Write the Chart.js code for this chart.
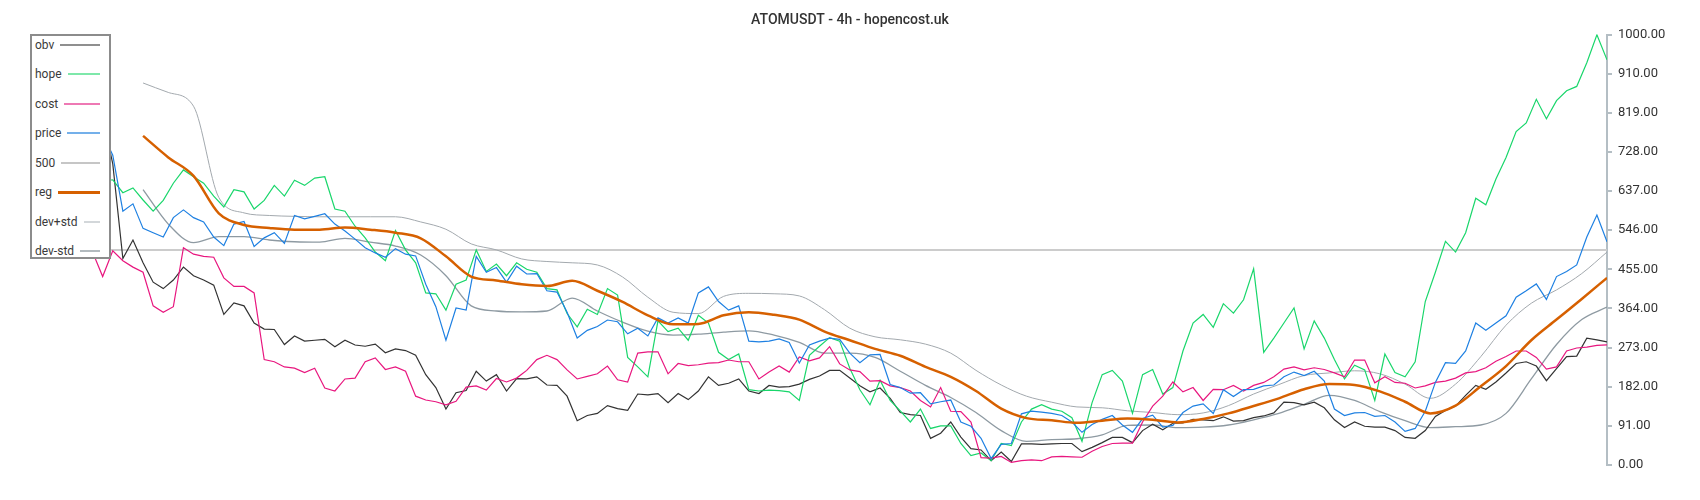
<!DOCTYPE html>
<html>
<head>
<meta charset="utf-8">
<title>ATOMUSDT - 4h - hopencost.uk</title>
<script src="https://cdn.jsdelivr.net/npm/chart.js@4.4.1/dist/chart.umd.min.js"></script>
<style>
  html, body { margin: 0; padding: 0; background: #fff; }
  .chartBox { position: relative; width: 1700px; height: 500px; }
  .legendBox {
    position: absolute; left: 30px; top: 34px; width: 81px; height: 225px;
    box-sizing: border-box; border: 2px solid #8c8c8c; background: #fff;
    font-family: Roboto, sans-serif;
  }
  .legendRow { position: absolute; left: 3px; right: 9px; height: 16px; display: flex; align-items: center; }
  .legendRow .name { font-size: 12px; color: #3a3a3a; white-space: nowrap; }
  .legendRow .line { flex: 1; margin-left: 6px; }
</style>
</head>
<body>
<div class="chartBox">
  <canvas id="chart" width="1700" height="500"></canvas>
  <div class="legendBox" id="legend"></div>
</div>
<script>
const title = "ATOMUSDT - 4h - hopencost.uk";

// x is the candle index; raw series are kept every 2nd candle,
// reg and the std bands start after their lookback window
const xMax = 312;
const rawStep = 2;
const smoothStart = 22;
const smoothStep = 5;

const tickValues = [0, 91, 182, 273, 364, 455, 546, 637, 728, 819, 910, 1000];

const obv = [
  760, 780, 750, 790, 770, 800, 780, 810, 700, 480,
  523, 470, 425, 410, 430, 460, 440, 430, 418, 350,
  377, 370, 330, 316, 315, 280, 300, 288, 290, 292,
  275, 290, 279, 276, 281, 261, 270, 266, 255, 210,
  180, 130, 168, 173, 218, 195, 210, 172, 201, 200,
  205, 186, 185, 160, 103, 115, 120, 138, 131, 127,
  165, 163, 166, 145, 166, 152, 172, 205, 185, 190,
  200, 172, 166, 185, 181, 182, 188, 199, 207, 220,
  220, 202, 184, 170, 179, 155, 122, 117, 115, 62,
  74, 100, 65, 38, 35, 10, 30, 8, 49, 49,
  48, 49, 50, 50, 31, 41, 52, 64, 64, 52,
  80, 95, 82, 97, 98, 106, 105, 103, 112, 102,
  103, 110, 114, 121, 146, 145, 140, 146, 133, 105,
  87, 100, 90, 88, 88, 80, 64, 62, 80, 113,
  127, 137, 162, 185, 176, 193, 214, 236, 240, 230,
  196, 224, 252, 253, 295, 291, 286
];

const hope = [
  700, 690, 710, 680, 700, 670, 690, 660, 663, 633,
  644, 616, 590, 615, 655, 686, 670, 655, 625, 600,
  640, 635, 595, 615, 650, 625, 662, 650, 667, 670,
  595, 590, 555, 528, 495, 475, 545, 500, 470, 400,
  398, 360, 420, 430, 500, 450, 467, 440, 470, 455,
  448, 410, 407, 352, 321, 362, 350, 410, 395, 250,
  228, 205, 335, 310, 318, 290, 348, 330, 262, 245,
  258, 175, 172, 174, 173, 170, 150, 255, 276, 296,
  288, 225, 175, 140, 197, 150, 126, 100, 130, 85,
  91, 91, 50, 22, 28, 10, 50, 45, 100, 130,
  140, 130, 125, 110, 55, 145, 210, 220, 195, 120,
  210, 222, 165, 180, 265, 330, 350, 320, 375, 353,
  384, 456, 262, 295, 330, 365, 270, 335, 295, 245,
  200, 232, 221, 150, 258, 215, 205, 240, 380, 448,
  520, 495, 540, 620, 605, 665, 715, 775, 795, 850,
  805, 847, 870, 880, 935, 1000, 942
];

const cost = [
  560, 545, 570, 535, 550, 520, 495, 438, 498, 475,
  460, 448, 370, 355, 368, 505, 490, 485, 483, 435,
  415, 415, 400, 245, 240, 228, 225, 215, 225, 179,
  172, 200, 202, 240, 249, 222, 228, 218, 160, 151,
  147, 140, 148, 181, 184, 174, 201, 193, 202, 220,
  245, 255, 245, 221, 200, 206, 212, 230, 198, 193,
  260, 263, 263, 212, 236, 231, 233, 237, 238, 244,
  240, 240, 200, 216, 230, 216, 251, 242, 249, 275,
  235, 221, 217, 195, 196, 184, 180, 172, 150, 135,
  180, 125, 124, 100, 17, 16, 20, 6, 10, 12,
  10, 19, 20, 19, 18, 32, 43, 50, 51, 51,
  100, 137, 160, 193, 170, 180, 150, 176, 175, 185,
  172, 185, 192, 205, 223, 228, 221, 226, 222, 214,
  205, 244, 244, 191, 205, 192, 190, 179, 184, 192,
  195, 202, 214, 217, 226, 241, 252, 265, 265, 250,
  223, 228, 265, 272, 274, 278, 279
];

const price = [
  700, 720, 690, 730, 700, 740, 720, 770, 720, 590,
  607, 550, 540, 530, 575, 593, 575, 565, 530, 510,
  560, 566, 508, 528, 540, 515, 580, 572, 578, 584,
  560, 544, 525, 505, 493, 483, 503, 490, 486, 420,
  368, 290, 365, 360, 485, 448, 459, 425, 462, 444,
  445, 405, 402, 355, 295, 313, 322, 337, 333, 305,
  318, 300, 342, 330, 342, 330, 400, 414, 380, 360,
  370, 288, 286, 288, 293, 285, 237, 279, 288, 295,
  292, 260, 238, 256, 257, 187, 180, 167, 168, 142,
  147, 151, 100, 90, 62, 15, 48, 50, 119, 125,
  123, 120, 115, 100, 76, 94, 106, 115, 93, 76,
  108, 116, 88, 92, 122, 137, 142, 120, 175, 159,
  175, 176, 184, 186, 205, 216, 208, 218, 195, 130,
  115, 121, 122, 113, 115, 100, 78, 85, 125, 192,
  238, 236, 265, 330, 313, 330, 347, 390, 405, 421,
  385, 438, 450, 465, 530, 581, 519
];

const reg = [
  765, 715, 672, 585, 558, 551, 547, 547, 552, 547,
  540, 527, 485, 438, 429, 420, 416, 428, 405, 379,
  348, 327, 328, 348, 355, 349, 338, 310, 290, 270,
  254, 228, 205, 172, 131, 109, 104, 98, 103, 108,
  105, 99, 107, 120, 137, 155, 176, 188, 186, 171,
  147, 120, 138, 183, 230, 290, 338, 386, 435
];

const devPlus = [
  888, 866, 834, 622, 586, 580, 578, 577, 577, 577,
  577, 565, 548, 514, 500, 479, 473, 470, 465, 437,
  390, 355, 352, 392, 399, 398, 393, 361, 318, 298,
  291, 281, 260, 220, 186, 160, 146, 135, 133, 126,
  122, 117, 121, 138, 165, 187, 208, 214, 219, 212,
  188, 155, 188, 252, 325, 376, 407, 445, 495
];

const devMinus = [
  640, 560, 517, 531, 531, 523, 519, 518, 527, 518,
  509, 488, 440, 370, 358, 356, 358, 388, 358, 332,
  311, 302, 304, 309, 312, 302, 285, 260, 260, 250,
  218, 185, 157, 122, 80, 55, 59, 61, 70, 92,
  93, 87, 88, 93, 105, 120, 141, 162, 150, 124,
  103, 87, 89, 93, 120, 200, 280, 338, 367
];

const level = 500;

const toPoints = (arr, start, step) => arr.map((v, i) => ({ x: start + i * step, y: v }));

const datasets = [
  { label: "obv", data: toPoints(obv, 0, rawStep), borderColor: "#333333", borderWidth: 1.2, order: 4, legendColor: "#8f8f8f", legendWidth: 2 },
  { label: "hope", data: toPoints(hope, 0, rawStep), borderColor: "#19d66b", borderWidth: 1.2, order: 3, legendColor: "#7ee8aa", legendWidth: 2 },
  { label: "cost", data: toPoints(cost, 0, rawStep), borderColor: "#e8177f", borderWidth: 1.2, order: 2, legendColor: "#ee79b4", legendWidth: 2 },
  { label: "price", data: toPoints(price, 0, rawStep), borderColor: "#1e80e2", borderWidth: 1.2, order: 1, legendColor: "#74b0ea", legendWidth: 2 },
  { label: "500", data: [{ x: 0, y: level }, { x: xMax, y: level }], borderColor: "#cccccc", borderWidth: 2, order: 7, legendColor: "#c6c6c6", legendWidth: 2 },
  { label: "reg", data: toPoints(reg, smoothStart, smoothStep), borderColor: "#d66000", borderWidth: 2.5, order: 0, cubicInterpolationMode: "monotone", legendColor: "#d66000", legendWidth: 3 },
  { label: "dev+std", data: toPoints(devPlus, smoothStart, smoothStep), borderColor: "#a3a9ae", borderWidth: 1, order: 5, cubicInterpolationMode: "monotone", legendColor: "#d3d7da", legendWidth: 2 },
  { label: "dev-std", data: toPoints(devMinus, smoothStart, smoothStep), borderColor: "#8e9aa2", borderWidth: 1.3, order: 6, cubicInterpolationMode: "monotone", legendColor: "#b2babe", legendWidth: 2 }
];

const config = {
  type: "line",
  data: { datasets },
  options: {
    responsive: false,
    animation: false,
    devicePixelRatio: 1,
    layout: { padding: { left: 0, right: 0, top: 0, bottom: 35 } },
    elements: {
      point: { radius: 0 },
      line: { fill: false, tension: 0 }
    },
    plugins: {
      legend: { display: false },
      tooltip: { enabled: false },
      title: {
        display: true,
        text: title,
        color: "#333333",
        font: { family: "Roboto", size: 14, weight: "500" },
        padding: { top: 12, bottom: 6 }
      }
    },
    scales: {
      x: { type: "linear", min: 0, max: xMax, display: false },
      // empty left axis, only keeps the lines clear of the left edge
      yl: {
        position: "left",
        display: true,
        grid: { display: false },
        border: { display: false },
        ticks: { display: false },
        afterFit: (s) => { s.width = 32; }
      },
      y: {
        position: "right",
        min: 0,
        max: 1000,
        afterBuildTicks: (s) => { s.ticks = tickValues.map((v) => ({ value: v })); },
        afterFit: (s) => { s.width = 93; },
        ticks: {
          color: "#333333",
          font: { family: "Roboto", size: 13 },
          padding: 6,
          callback: (v) => Number(v).toFixed(2)
        },
        grid: { drawOnChartArea: false, drawTicks: true, tickLength: 5, color: "#b4bec4", lineWidth: 2 },
        border: { display: true, color: "#b4bec4", width: 2 }
      }
    }
  }
};

new Chart(document.getElementById("chart"), config);

// boxed legend in the top left corner, name first then the line sample
const legend = document.getElementById("legend");
datasets.forEach((ds, i) => {
  const row = document.createElement("div");
  row.className = "legendRow";
  row.style.top = (9 + i * 29.43 - 8) + "px";
  const name = document.createElement("span");
  name.className = "name";
  name.textContent = ds.label;
  const line = document.createElement("span");
  line.className = "line";
  line.style.height = ds.legendWidth + "px";
  line.style.background = ds.legendColor;
  row.appendChild(name);
  row.appendChild(line);
  legend.appendChild(row);
});
</script>
</body>
</html>
